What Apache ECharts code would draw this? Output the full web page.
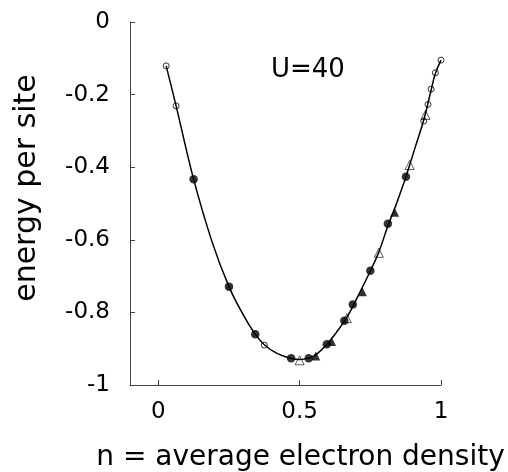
<!DOCTYPE html>
<html>
<head>
<meta charset="utf-8">
<script src="https://cdn.jsdelivr.net/npm/echarts@6/dist/echarts.min.js"></script>
<style>html,body{margin:0;padding:0;background:#fff}#c{width:508px;height:472px}</style>
</head>
<body>
<div id="c"></div>
<script>
// fitted curve
const curve = [[0.028,-0.121],[0.063,-0.231],[0.125,-0.433],[0.19,-0.605],[0.25,-0.729],[0.30,-0.806],[0.343,-0.860],[0.375,-0.889],[0.42,-0.913],[0.47,-0.927],[0.5,-0.930],[0.532,-0.926],[0.557,-0.917],[0.596,-0.888],[0.63,-0.855],[0.667,-0.814],[0.70,-0.765],[0.75,-0.686],[0.78,-0.634],[0.812,-0.562],[0.836,-0.514],[0.876,-0.426],[0.91,-0.342],[0.939,-0.270],[0.965,-0.188],[0.98,-0.142],[1.0,-0.105]];
const filledCircles = [[0.125,-0.433],[0.25,-0.729],[0.343,-0.860],[0.47,-0.926],[0.532,-0.926],[0.596,-0.888],[0.658,-0.823],[0.688,-0.778],[0.75,-0.685],[0.812,-0.556],[0.876,-0.426]];
const openCircles = [[0.028,-0.121],[0.063,-0.231],[0.375,-0.890],[0.939,-0.273],[0.954,-0.227],[0.965,-0.185],[0.98,-0.140],[1.0,-0.105]];
const filledTriangles = [[0.557,-0.920],[0.613,-0.880],[0.722,-0.743],[0.836,-0.524]];
const openTriangles = [[0.5,-0.932],[0.667,-0.816],[0.78,-0.636],[0.889,-0.394],[0.945,-0.256]];
const xTicks = [0, 0.5, 1];
const xName = 'n = average electron density';
const yName = 'energy per site';
const note = 'U=40';

const font = 'DejaVu Sans';
const chart = echarts.init(document.getElementById('c'));
chart.setOption({
  animation: false,
  backgroundColor: '#fff',
  grid: {left: 130, right: 67, top: 22, bottom: 87, containLabel: false, outerBoundsMode: 'none'},
  xAxis: {
    type: 'value', min: -0.1, max: 1.0,
    splitLine: {show: false},
    axisLine: {onZero: false, lineStyle: {color: '#444', width: 1}},
    axisTick: {inside: true, length: 5, customValues: xTicks, lineStyle: {color: '#444'}},
    axisLabel: {customValues: xTicks, fontFamily: font, fontSize: 23, color: '#000', margin: 16,
      formatter: v => String(v)},
    name: xName, nameLocation: 'middle', nameGap: 59,
    nameTextStyle: {fontFamily: font, fontSize: 28, color: '#000', padding: [0,0,0,30]}
  },
  yAxis: {
    type: 'value', min: -1, max: 0, interval: 0.2,
    splitLine: {show: false},
    axisLine: {show: true, onZero: false, lineStyle: {color: '#444', width: 1}},
    axisTick: {show: true, inside: true, length: 5, lineStyle: {color: '#444'}},
    axisLabel: {fontFamily: font, fontSize: 23, color: '#000', margin: 20,
      formatter: v => String(Math.round(v*10)/10)},
    name: yName, nameLocation: 'middle', nameGap: 88, nameRotate: 90,
    nameTextStyle: {fontFamily: font, fontSize: 30, color: '#000', padding: [0,0,0,31]}
  },
  graphic: [{type: 'text', left: 271, top: 57, style: {text: note, font: '26px "DejaVu Sans"', fill: '#000'}}],
  series: [
    {type: 'line', data: curve, smooth: 0.4, showSymbol: false, symbol: 'none',
      lineStyle: {color: '#000', width: 1.5}, z: 1},
    {type: 'scatter', data: openCircles, symbol: 'circle', symbolSize: 6,
      itemStyle: {color: 'rgba(255,255,255,0)', borderColor: '#000', borderWidth: 1}, z: 3},
    {type: 'scatter', data: openTriangles, symbol: 'triangle', symbolSize: 9,
      itemStyle: {color: 'rgba(255,255,255,0)', borderColor: '#000', borderWidth: 0.8}, z: 3},
    {type: 'scatter', data: filledCircles, symbol: 'circle', symbolSize: 8.5,
      itemStyle: {color: '#000'}, z: 4},
    {type: 'scatter', data: filledTriangles, symbol: 'triangle', symbolSize: 9,
      itemStyle: {color: '#000'}, z: 4}
  ]
});
</script>
</body>
</html>
